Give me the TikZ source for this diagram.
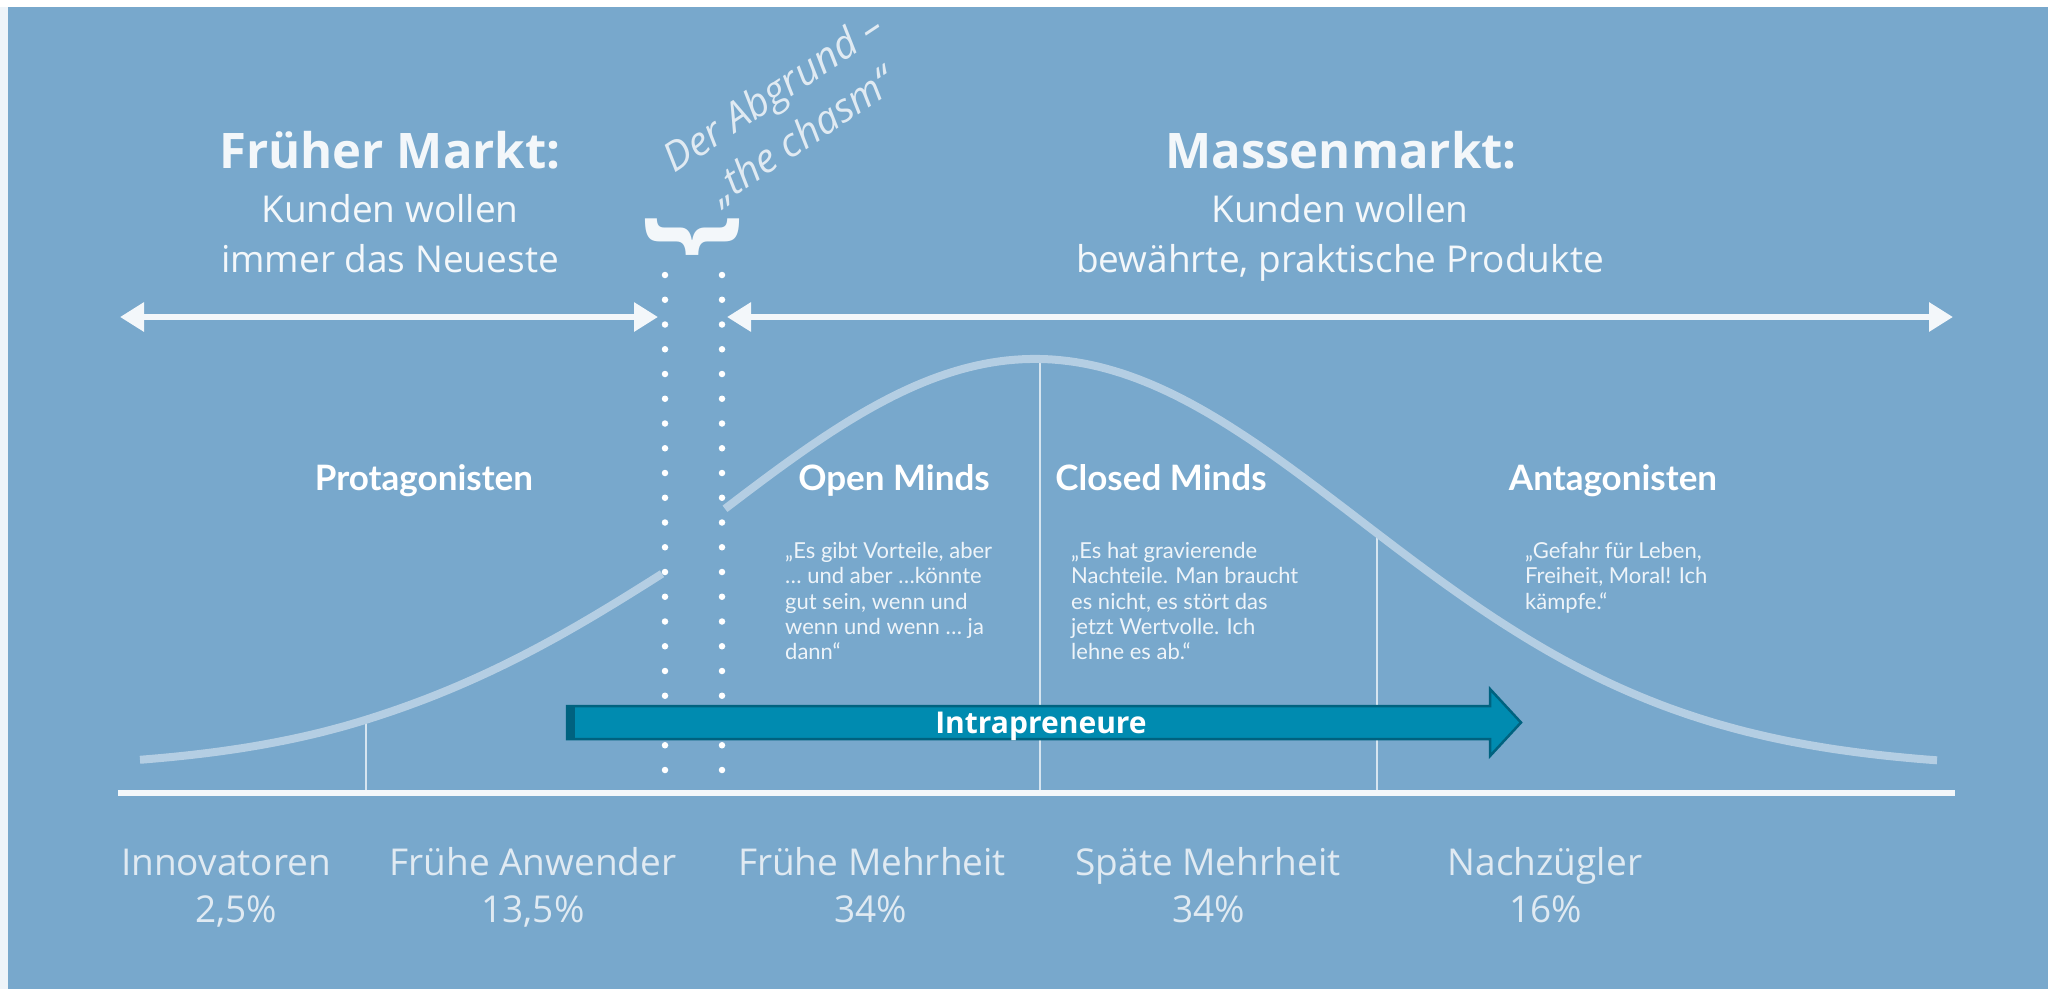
\documentclass[tikz,border=0pt]{standalone}
\usepackage{fontspec}
\setmainfont{Open Sans}
\newfontfamily\avn{Lato}
\usetikzlibrary{arrows.meta}

\definecolor{bg}{HTML}{78A8CC}
\definecolor{edge}{HTML}{EEF4F9}
\definecolor{bell}{HTML}{B4CEE3}
\definecolor{soft}{HTML}{F3F7FA}
\definecolor{dim}{HTML}{E0EAF2}
\definecolor{quotecol}{HTML}{EEF4F9}
\definecolor{rule}{HTML}{D6E5F0}
\definecolor{teal}{HTML}{008BB0}
\definecolor{tealdark}{HTML}{00627F}

\tikzset{
  title/.style={font=\fontsize{49}{52}\selectfont\bfseries, text=soft, inner sep=0pt, anchor=base},
  subline/.style={font=\fontsize{37}{50}\selectfont, text=soft, inner sep=0pt, anchor=base},
  group/.style={font=\avn\fontsize{35}{38}\selectfont\bfseries, text=white, inner sep=0pt, anchor=base},
  quote/.style={font=\avn\fontsize{22}{25.3}\selectfont, text=quotecol, align=left, inner sep=0pt, anchor=north west},
  segment/.style={font=\fontsize{37}{50}\selectfont, text=dim, inner sep=0pt, anchor=base},
  market/.style={draw=soft, line width=6pt, {Triangle[length=24pt,width=28pt]}-{Triangle[length=24pt,width=28pt]}},
  dotcol/.style={draw=white, line width=6.5pt, line cap=round, dash pattern=on 0pt off 24.75pt},
  bellline/.style={draw=bell, line width=8pt},
  divider/.style={draw=rule, line width=1.6pt},
}

\begin{document}
\begin{tikzpicture}[x=1pt,y=-1pt]
\useasboundingbox (0,0) rectangle (2048,989);
\fill[white] (0,0) rectangle (2048,989);
\fill[edge] (0,7) rectangle (8,989);
\fill[bg] (8,7) rectangle (2048,989);

% dividers between the adopter segments
\draw[divider] (366,720) -- (366,792);
\draw[divider] (1040,359) -- (1040,792);
\draw[divider] (1377,533) -- (1377,792);

% bell curve, broken at the chasm (the early part sags a little)
\draw[bellline] plot[domain=140:662, samples=80]
  (\x, {769-410*exp(-((\x-1035)/325)^2/2)+17*(max(0,\x-366)/296)^2});
\draw[bellline] plot[domain=725:1937, samples=160]
  (\x, {769-410*exp(-((\x-1035)/325)^2/2)});

% axis
\draw[draw=soft, line width=6pt] (118,793) -- (1955,793);

% the chasm: two dotted columns
\draw[dotcol] (665,275) -- (665,790);
\draw[dotcol] (722,275) -- (722,790);

% market arrows
\coordinate (eL) at (120,317);
\coordinate (eR) at (658,317);
\coordinate (mL) at (727,317);
\coordinate (mR) at (1953,317);
\draw[market] (eL) -- (eR);
\draw[market] (mL) -- (mR);

% headings
\node[title] (early) at (390,168) {Früher Markt:};
\node[subline] (early1) at (390,222) {Kunden wollen};
\node[subline] (early2) at (390,272) {immer das Neueste};
\node[title] (mass) at (1341,168) {Massenmarkt:};
\node[subline] (mass1) at (1340,222) {Kunden wollen};
\node[subline] (mass2) at (1340,272) {bewährte, praktische Produkte};

% chasm label and brace
\node[font=\fontsize{40}{52}\selectfont\itshape, text=dim, rotate=33.5, align=center] (chasm) at (788,115) {Der Abgrund –\\„the chasm“};
\node[font=\fontsize{108}{108}\selectfont\bfseries, text=soft, rotate=-90, inner sep=0pt] (brace) at (692,236) {\}};

% groups
\node[group] (prot) at (424,490) {Protagonisten};
\node[group] (open) at (894,490) {Open Minds};
\node[group] (closed) at (1161,490) {Closed Minds};
\node[group] (anta) at (1613,490) {Antagonisten};

\node[quote] (qopen) at (785,542) {„Es gibt Vorteile, aber\\… und aber …könnte\\gut sein, wenn und\\wenn und wenn … ja\\dann“};
\node[quote] (qclosed) at (1071,542) {„Es hat gravierende\\Nachteile. Man braucht\\es nicht, es stört das\\jetzt Wertvolle. Ich\\lehne es ab.“};
\node[quote] (qanta) at (1525,542) {„Gefahr für Leben,\\Freiheit, Moral! Ich\\kämpfe.“};

% intrapreneur arrow
\fill[teal, draw=tealdark, line width=2.5pt, line join=miter]
  (567,706) -- (1490,706) -- (1490,689) -- (1521,722.5) -- (1490,756) -- (1490,739) -- (567,739) -- cycle;
\fill[tealdark] (566,705) rectangle (575,740);
\node[font=\fontsize{30}{32}\selectfont\bfseries, text=white, inner sep=0pt, anchor=base] (intra) at (1041,733) {Intrapreneure};

% adopter segments
\node[segment] (s1) at (226,875) {Innovatoren};
\node[segment] (p1) at (236,922) {2,5\%};
\node[segment] (s2) at (533,875) {Frühe Anwender};
\node[segment] (p2) at (533,922) {13,5\%};
\node[segment] (s3) at (872,875) {Frühe Mehrheit};
\node[segment] (p3) at (871,922) {34\%};
\node[segment] (s4) at (1208,875) {Späte Mehrheit};
\node[segment] (p4) at (1209,922) {34\%};
\node[segment] (s5) at (1545,875) {Nachzügler};
\node[segment] (p5) at (1546,922) {16\%};
\end{tikzpicture}
\end{document}
